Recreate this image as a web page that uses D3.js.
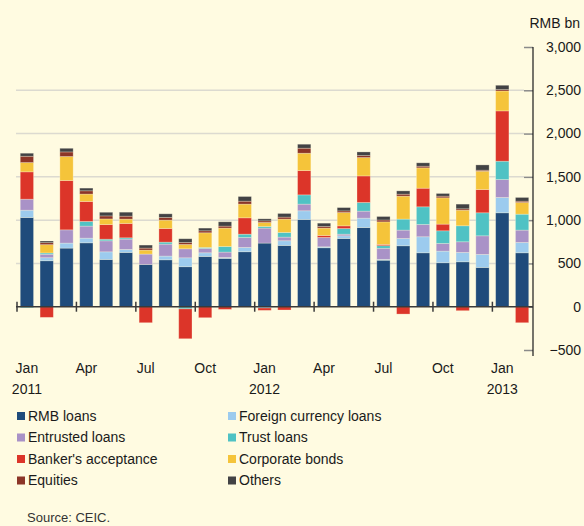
<!DOCTYPE html>
<html lang="en">
<meta charset="utf-8">
<title>Total social financing</title>
<script type="text/javascript" src="https://d3js.org/d3.v7.min.js"></script>
<style type="text/css">
  body { margin: 0; background: #fffbe1; }
  svg { display: block; font-family: "Liberation Sans", Arial, sans-serif; }
</style>
<body>
<svg width="584" height="526"></svg>
<script type="text/javascript">
// monthly flows, RMB bn (Jan 2011 - Feb 2013)
var months = ["2011-01","2011-02","2011-03","2011-04","2011-05","2011-06","2011-07","2011-08","2011-09","2011-10","2011-11","2011-12",
              "2012-01","2012-02","2012-03","2012-04","2012-05","2012-06","2012-07","2012-08","2012-09","2012-10","2012-11","2012-12",
              "2013-01","2013-02"];
var rmbLoans   = [1031,531,677,738,546,627,488,542,462,581,558,635,735,708,1008,681,788,915,537,704,623,508,519,454,1085,623];
var fxLoans    = [84,35,58,54,88,35,0,43,103,42,11,50,-15,54,100,11,31,108,10,84,185,134,108,150,177,119];
var entrusted  = [127,40,153,139,127,119,120,138,104,50,62,115,173,42,77,108,19,81,128,97,142,89,123,215,207,143];
var trustLoans = [-12,15,0,54,19,15,0,23,-25,12,65,38,19,54,107,0,65,100,30,127,204,146,185,266,212,184];
var bankersAcc = [316,-123,570,231,169,166,-185,158,-345,-127,-31,189,-27,-38,281,23,31,307,15,-85,215,77,-46,269,581,-185];
var corpBonds  = [107,96,277,85,65,50,46,96,50,169,212,158,46,154,200,85,154,212,260,265,235,304,180,211,230,135];
var equities   = [73,23,53,38,35,34,23,31,23,23,23,34,19,23,58,19,19,23,22,23,19,19,16,12,16,15];
var others     = [35,19,42,31,42,46,35,42,43,31,50,54,23,42,46,38,38,42,40,38,39,31,54,61,50,43];

var seriesNames = ["RMB loans","Foreign currency loans","Entrusted loans","Trust loans",
                   "Banker's acceptance","Corporate bonds","Equities","Others"];
var seriesValues = [rmbLoans, fxLoans, entrusted, trustLoans, bankersAcc, corpBonds, equities, others];
var colors = ["#1f4b7b","#9ccbee","#a992c7","#4fc2c4","#dc3529","#f5c43a","#8c3527","#424244"];

var yTicks = [-500,0,500,1000,1500,2000,2500,3000];
var monthLabels = ["Jan","Apr","Jul","Oct","Jan","Apr","Jul","Oct","Jan"];
var yearLabels = ["2011","","","","2012","","","","2013"];

var svg = d3.select("svg");

var rows = months.map(function(m, i) {
  var r = {month: m};
  seriesNames.forEach(function(s, j) { r[s] = seriesValues[j][i]; });
  return r;
});

var x = d3.scaleBand()
    .domain(months)
    .range([17, 532])
    .paddingInner(0.33)
    .paddingOuter(0.165);

var xm = d3.scaleLinear().domain([0, months.length]).range([17, 532]);

var y = d3.scaleLinear()
    .domain([-500, 3000])
    .range([350, 47]);

var z = d3.scaleOrdinal().domain(seriesNames).range(colors);

// gridlines
svg.append("g")
  .selectAll("line")
  .data(yTicks.filter(function(d) { return d > 0 && d < 3000; }))
  .enter().append("line")
    .attr("x1", 16).attr("x2", 524)
    .attr("y1", function(d) { return y(d); })
    .attr("y2", function(d) { return y(d); })
    .attr("stroke", "#dcdad0")
    .attr("stroke-width", 1.5);

// y axis on the right
var yAxis = svg.append("g")
    .attr("transform", "translate(533,0)")
    .call(d3.axisLeft(y).tickValues(yTicks).tickSize(9).tickFormat(""));
yAxis.select(".domain").remove();
yAxis.selectAll(".tick line").attr("stroke", "#8a8a8a").attr("stroke-width", 1.5);

svg.append("line")
    .attr("x1", 533).attr("x2", 533)
    .attr("y1", y(3000)).attr("y2", 356)
    .attr("stroke", "#1a1a1a").attr("stroke-width", 1.2);

svg.append("g")
  .selectAll("text")
  .data(yTicks)
  .enter().append("text")
    .attr("x", 581)
    .attr("y", function(d) { return y(d); })
    .attr("dy", "0.35em")
    .attr("text-anchor", "end")
    .attr("font-size", 14)
    .attr("fill", "#1a1a1a")
    .text(function(d) { return d3.format(",")(d); });

svg.append("text")
    .attr("x", 580)
    .attr("y", 23)
    .attr("dy", "0.35em")
    .attr("text-anchor", "end")
    .attr("font-size", 14)
    .attr("fill", "#1a1a1a")
    .text("RMB bn");

// stacked bars
var stack = d3.stack()
    .keys(seriesNames)
    .offset(d3.stackOffsetDiverging);

svg.append("g")
  .selectAll("g")
  .data(stack(rows))
  .enter().append("g")
    .attr("fill", function(d) { return z(d.key); })
  .selectAll("rect")
  .data(function(d) { return d; })
  .enter().append("rect")
    .attr("x", function(d) { return x(d.data.month); })
    .attr("y", function(d) { return y(Math.max(d[0], d[1])); })
    .attr("width", x.bandwidth())
    .attr("height", function(d) { return Math.abs(y(d[0]) - y(d[1])); })
    .attr("stroke", "#fffbe1")
    .attr("stroke-opacity", 0.35)
    .attr("stroke-width", 0.8);

// zero line and month ticks
svg.append("line")
    .attr("x1", 16).attr("x2", 533)
    .attr("y1", y(0)).attr("y2", y(0))
    .attr("stroke", "#3a3a3a").attr("stroke-width", 1.5);

var tickIdx = d3.range(0, 25, 3);
svg.append("g")
  .selectAll("line")
  .data(tickIdx)
  .enter().append("line")
    .attr("x1", function(d) { return xm(d); })
    .attr("x2", function(d) { return xm(d); })
    .attr("y1", y(0) - 5).attr("y2", y(0) + 5)
    .attr("stroke", "#3a3a3a").attr("stroke-width", 1.5);

svg.append("g")
  .selectAll("text")
  .data(tickIdx)
  .enter().append("text")
    .attr("x", function(d) { return xm(d + 0.5); })
    .attr("y", 368)
    .attr("dy", "0.35em")
    .attr("text-anchor", "middle")
    .attr("font-size", 14)
    .attr("fill", "#1a1a1a")
    .text(function(d, i) { return monthLabels[i]; });

svg.append("g")
  .selectAll("text")
  .data(tickIdx)
  .enter().append("text")
    .attr("x", function(d) { return xm(d + 0.5); })
    .attr("y", 389)
    .attr("dy", "0.35em")
    .attr("text-anchor", "middle")
    .attr("font-size", 14)
    .attr("fill", "#1a1a1a")
    .text(function(d, i) { return yearLabels[i]; });

// legend, two columns
var legend = svg.append("g")
  .selectAll("g")
  .data(seriesNames)
  .enter().append("g")
    .attr("transform", function(d, i) {
      return "translate(" + (i % 2 ? 228 : 17) + "," + (416 + Math.floor(i / 2) * 21.5) + ")";
    });

legend.append("rect")
    .attr("x", 0).attr("y", -4)
    .attr("width", 8).attr("height", 8)
    .attr("fill", z);

legend.append("text")
    .attr("x", 11)
    .attr("dy", "0.35em")
    .attr("font-size", 14)
    .attr("fill", "#1a1a1a")
    .text(function(d) { return d; });

svg.append("text")
    .attr("x", 27)
    .attr("y", 517)
    .attr("dy", "0.35em")
    .attr("font-size", 13)
    .attr("fill", "#333")
    .text("Source: CEIC.");
</script>
</body>
</html>
